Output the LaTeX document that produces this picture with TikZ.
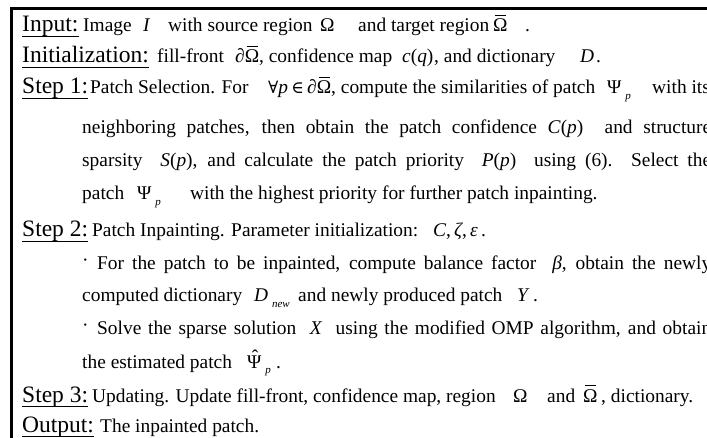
\documentclass[tikz,border=0pt]{standalone}
\usepackage{fontspec}
\setmainfont{Liberation Serif}
\newfontfamily\symfont{DejaVu Serif}

% italic letters standing for math symbols
\newcommand\mi[1]{\textit{#1}}
% small lowered italic index
\newcommand\idx[1]{\hspace{0.2em}\raisebox{-0.28em}{\fontsize{11}{11}\selectfont\itshape #1}}
% Omega with a bar over it
\newcommand\OmBar{\leavevmode\rlap{\hspace{0.1em}\raisebox{0.8em}{\rule{0.56em}{0.06em}}}Ω}
% Psi with a hat over it
\newcommand\PsiHat{\leavevmode\rlap{\hspace{0.24em}\raisebox{0.24em}{ˆ}}Ψ}
% raised dot that opens a sub-item
\newcommand\dotmark{\raisebox{3pt}{·}}
% relation symbols
\newcommand\forallsym{{\symfont\fontsize{17}{20}\selectfont ∀}}
\newcommand\insym{{\symfont\fontsize{17}{20}\selectfont ∈}}

\tikzset{
  lbl/.style={anchor=base west, inner sep=0pt, font=\fontsize{23.5}{28}\selectfont},
  txt/.style={anchor=base west, inner sep=0pt, font=\fontsize{19.4}{23}\selectfont},
  uline/.style={line width=1.4pt},
  frame/.style={line width=2.6pt, line join=miter, line cap=rect}
}

\begin{document}
\begin{tikzpicture}[x=1pt,y=-1pt]
\useasboundingbox (0,0) rectangle (707,438);
\clip (0,0) rectangle (707,438);

% open frame: left and top edges
\draw[frame] (11.2,445) -- (11.2,8.8) -- (715,8.8);

% Input
\node[lbl] (inLbl) at (22,32) {Input:};
\node[txt] (in1) at (83,32) {Image};
\node[txt] (in2) at (143,32) {\mi{I}};
\node[txt] (in3) at (168,32) {with source region};
\node[txt] (in4) at (320,32) {Ω};
\node[txt] (in5) at (358,32) {and target region};
\node[txt] (in6) at (493,32) {\OmBar};
\node[txt] (in7) at (525,32) {.};

% Initialization
\node[lbl] (initLbl) at (22,63) {Initialization:};
\node[txt] (init1) at (157,63) {fill-front};
\node[txt] (init2) at (235,63) {∂\OmBar, confidence map};
\node[txt] (init4) at (402,63) {\mi{c}(\mi{q})};
\node[txt] (init5) at (434,63) {, and dictionary};
\node[txt] (init6) at (580,63) {\mi{D}};
\node[txt] (init7) at (596,63) {.};

% Step 1
\node[lbl] (s1Lbl) at (22,94) {Step 1:};
\node[txt] (s1a) at (90,94) {Patch Selection. For};
\node[txt] (s1b) at (268,94) {\forallsym\mi{p}\,\insym\,∂\OmBar, compute the similarities of patch};
\node[txt] (s1d) at (607,94) {Ψ\idx{p}};
\node[txt] (s1e) at (652,94) {with its};
\node[txt] (s1f) at (82,134) {\makebox[629pt][s]{neighboring patches, then obtain the patch confidence \mi{C}(\mi{p}) \ and structure}};
\node[txt] (s1g) at (82,167) {\makebox[629pt][s]{sparsity \ \mi{S}(\mi{p}), and calculate the patch priority \ \mi{P}(\mi{p}) \ using (6). Select the}};
\node[txt] (s1h) at (82,200) {patch};
\node[txt] (s1i) at (137,200) {Ψ\idx{p}};
\node[txt] (s1j) at (190,200) {with the highest priority for further patch inpainting.};

% Step 2
\node[lbl] (s2Lbl) at (22,237) {Step 2:};
\node[txt] (s2a) at (92,237) {Patch Inpainting. Parameter initialization:};
\node[txt] (s2b) at (433,237) {\mi{C},\,\mi{ζ},\,\mi{ε}\,.};
\node[txt] (b1) at (82,270) {\dotmark};
\node[txt] (s2c) at (97,270) {\makebox[614pt][s]{For the patch to be inpainted, compute balance factor \ \mi{β}, obtain the newly}};
\node[txt] (s2d) at (82,302) {computed dictionary};
\node[txt] (s2e) at (254,302) {\mi{D}\idx{new}};
\node[txt] (s2f) at (298,302) {and newly produced patch};
\node[txt] (s2g) at (517,302) {\mi{Y}};
\node[txt] (s2h) at (533,302) {.};
\node[txt] (b2) at (82,335) {\dotmark};
\node[txt] (s2i) at (97,335) {\makebox[614pt][s]{Solve the sparse solution \ \mi{X} \ using the modified OMP algorithm, and obtain}};
\node[txt] (s2j) at (82,368) {the estimated patch};
\node[txt] (s2k) at (247,368) {\PsiHat\idx{p}};
\node[txt] (s2l) at (276,368) {.};

% Step 3
\node[lbl] (s3Lbl) at (22,402) {Step 3:};
\node[txt] (s3a) at (92,402) {Updating. Update fill-front, confidence map, region};
\node[txt] (s3b) at (513,402) {Ω};
\node[txt] (s3c) at (547,402) {and};
\node[txt] (s3d) at (583,402) {\OmBar};
\node[txt] (s3e) at (601,402) {, dictionary.};

% Output
\node[lbl] (outLbl) at (22,432) {Output:};
\node[txt] (out1) at (100,432) {The inpainted patch.};

% underlined labels
\foreach \n in {inLbl,initLbl,s1Lbl,s2Lbl,s3Lbl,outLbl}
  \draw[uline] ([yshift=-4.5pt]\n.base west) -- ([yshift=-4.5pt]\n.base east);
\end{tikzpicture}
\end{document}
